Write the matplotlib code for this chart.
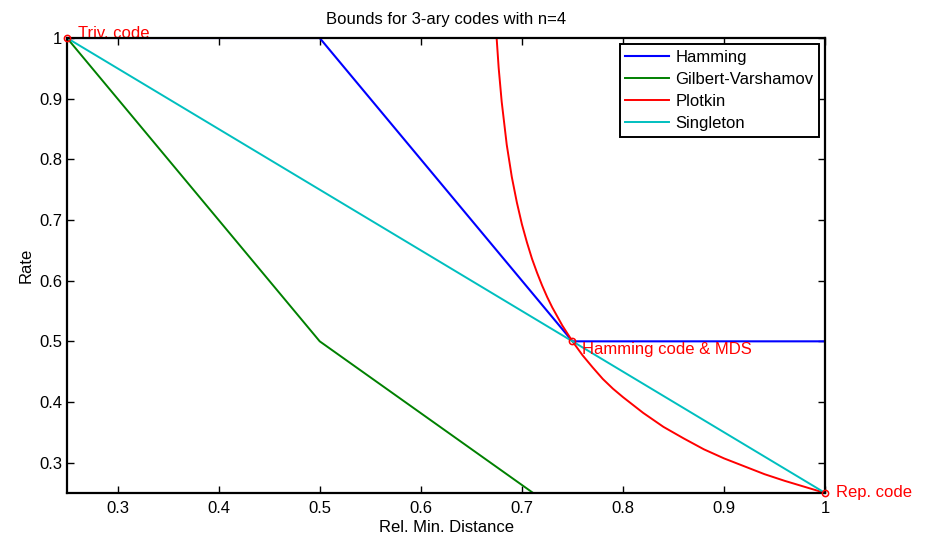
import numpy as np
import matplotlib
matplotlib.use('Agg')
import matplotlib.pyplot as plt

plt.rcParams['font.family'] = ['Liberation Sans', 'DejaVu Sans']

# relative distance d/n for n=4
delta = [0.25, 0.5, 0.75, 1.0]
hamming = [1.0, 1.0, 0.5, 0.5]
gv = [1.0, 0.5, 0.204, 0.05]
singleton = [1.0, 0.75, 0.5, 0.25]

# Plotkin curve
plotkin_x = [0.675, 0.677, 0.68, 0.685, 0.69, 0.695, 0.70, 0.705, 0.71, 0.715, 0.72,
             0.725, 0.73, 0.74, 0.75, 0.76, 0.77, 0.78, 0.79, 0.8, 0.82, 0.84,
             0.86, 0.88, 0.9, 0.92, 0.94, 0.96, 0.98, 1.0]
plotkin_y = [1.0, 0.951, 0.895, 0.824, 0.771, 0.729, 0.693, 0.663, 0.636, 0.613, 0.592,
             0.573, 0.556, 0.526, 0.5, 0.477, 0.457, 0.438, 0.422, 0.408, 0.382, 0.359,
             0.340, 0.322, 0.307, 0.294, 0.281, 0.270, 0.260, 0.25]

# marked codes
codes_x = [0.25, 0.75, 1.0]
codes_y = [1.0, 0.5, 0.25]
codes_lbl = ['Triv. code', 'Hamming code & MDS', 'Rep. code']

fig = plt.figure(figsize=(9.28, 5.34), dpi=100)
ax = fig.add_axes([0.0722, 0.0768, 0.817, 0.852])

ax.plot(delta, hamming, color=(0, 0, 1), lw=1.5, label='Hamming')
ax.plot(delta, gv, color=(0, 0.5, 0), lw=1.4, label='Gilbert-Varshamov')
ax.plot(plotkin_x, plotkin_y, color=(1, 0, 0), lw=1.4, label='Plotkin')
ax.plot(delta, singleton, color=(0, 0.75, 0.75), lw=1.4, label='Singleton')

ax.plot(codes_x, codes_y, 'o', color='red', mfc='none', ms=4.5, mew=1.1, clip_on=False, zorder=4)
offsets = [(8, 3), (7, -6), (8, 0)]
for x, y, s, off in zip(codes_x, codes_y, codes_lbl, offsets):
    ax.annotate(s, (x, y), xytext=off, textcoords='offset points',
                color='red', fontsize=12, va='center', ha='left', annotation_clip=False)

ax.set_xlim(0.25, 1)
ax.set_ylim(0.25, 1)
ax.set_xticks([0.3, 0.4, 0.5, 0.6, 0.7, 0.8, 0.9, 1])
ax.set_xticklabels(['0.3', '0.4', '0.5', '0.6', '0.7', '0.8', '0.9', '1'])
ax.set_yticks([0.3, 0.4, 0.5, 0.6, 0.7, 0.8, 0.9, 1])
ax.set_yticklabels(['0.3', '0.4', '0.5', '0.6', '0.7', '0.8', '0.9', '1'])
ax.tick_params(direction='in', top=True, right=True, length=5, width=1, labelsize=12)
ax.tick_params(axis='x', pad=6)
for sp in ax.spines.values():
    sp.set_linewidth(1.6)
    sp.set_zorder(3)

ax.set_title('Bounds for 3-ary codes with n=4', fontsize=12, pad=10)
ax.set_xlabel('Rel. Min. Distance', fontsize=12, labelpad=3)
ax.set_ylabel('Rate', fontsize=12, labelpad=4)

leg = ax.legend(loc='upper right', fontsize=12, fancybox=False, framealpha=1,
                edgecolor='black', borderaxespad=0.35, handlelength=2.6,
                handletextpad=0.4, labelspacing=0.42, borderpad=0.35)
leg.get_frame().set_linewidth(1.4)

fig.savefig('out.png', dpi=100)
